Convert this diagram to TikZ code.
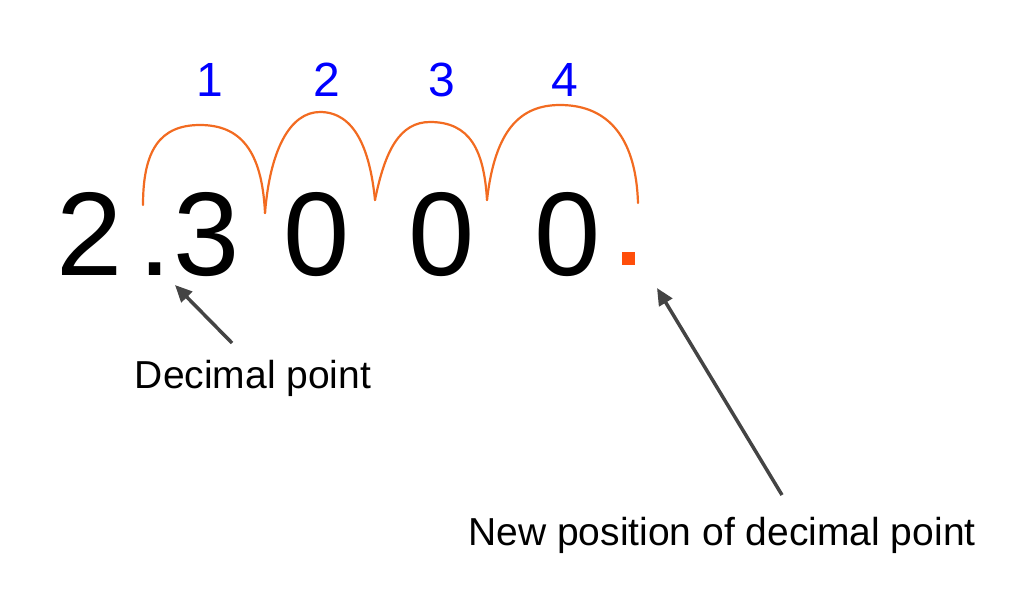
\documentclass[tikz,border=0pt]{standalone}
\usepackage{fontspec}
\setmainfont{Liberation Sans}
\usetikzlibrary{arrows.meta}
\definecolor{arc}{HTML}{F26B21}
\definecolor{dot}{HTML}{FF4E0A}
\definecolor{arr}{HTML}{444444}
\begin{document}
\begin{tikzpicture}[x=1pt,y=-1pt,
  digit/.style={inner sep=0pt,font=\fontsize{119}{119}\selectfont,anchor=base},
  count/.style={inner sep=0pt,text=blue,font=\fontsize{48}{48}\selectfont,anchor=base},
  lab/.style={inner sep=0pt,font=\fontsize{39}{39}\selectfont,anchor=base},
  hop/.style={draw=arc,line width=2.2pt,line cap=round},
  pointer/.style={draw=arr,line width=3.5pt,-{Triangle[length=17pt,width=15pt]}}]
\useasboundingbox (0,0) rectangle (1024,603);
\node[digit] (d2) at (90,275) {2};
\node[digit] (dp) at (155,275) {.};
\node[digit] (d3) at (207,275) {3};
\node[digit] (z1) at (317,275) {0};
\node[digit] (z2) at (442,275) {0};
\node[digit] (z3) at (568,275) {0};
\fill[dot] (622,252) rectangle (635,265);
\coordinate (np) at (657,288);
\coordinate (op) at (175,285);
\node[count] (c1) at (210,96) {1};
\node[count] (c2) at (327,96) {2};
\node[count] (c3) at (442,96) {3};
\node[count] (c4) at (565,96) {4};
\draw[hop] (143,205) .. controls (143,150) and (160,125) .. (200,125) .. controls (240,125) and (262,150) .. (265,213);
\draw[hop] (265,213) .. controls (270,150) and (290,112) .. (320,112) .. controls (355,112) and (370,150) .. (375,200);
\draw[hop] (375,200) .. controls (385,150) and (400,122) .. (430,122) .. controls (470,122) and (484,150) .. (487,200);
\draw[hop] (487,200) .. controls (495,130) and (520,105) .. (560,105) .. controls (610,105) and (636,140) .. (638,203);
\node[lab] (l1) at (253,388) {Decimal point};
\node[lab] (l2) at (722,545) {New position of decimal point};
\draw[pointer] (232,343) -- (op);
\draw[pointer] (782,495) -- (np);
\end{tikzpicture}
\end{document}
